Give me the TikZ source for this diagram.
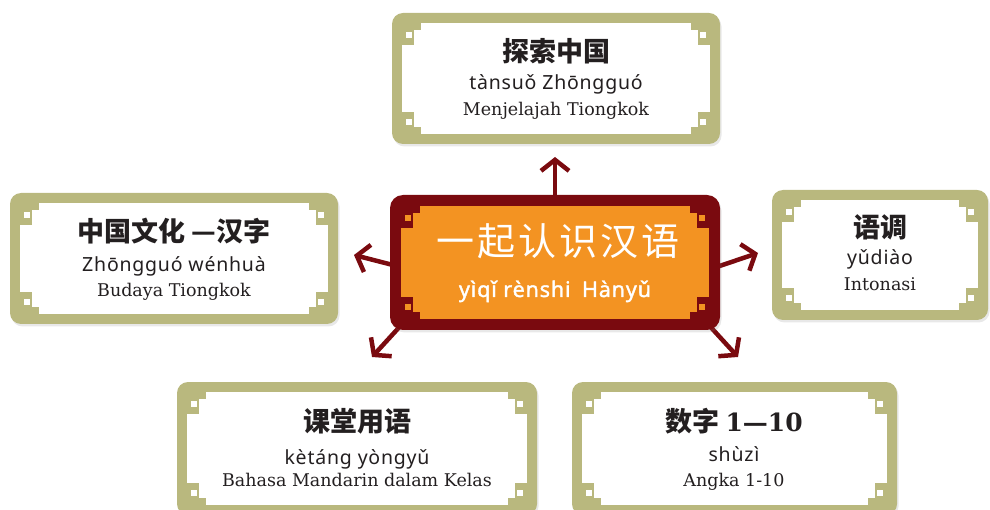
\documentclass[tikz,border=0pt]{standalone}
\usepackage{fontspec}
\usetikzlibrary{calc,arrows.meta,shadows,backgrounds}
\newfontfamily\cjk{Noto Sans CJK SC}
\newfontfamily\cjkt{Noto Sans CJK SC}[LetterSpace=8]
\newfontfamily\py{Noto Sans}[LetterSpace=4]
\newfontfamily\pyb{Noto Sans}[LetterSpace=4,FakeBold=1.6]
\newfontfamily\idn{DejaVu Serif}
\definecolor{frameolive}{HTML}{B9B87E}
\definecolor{darkred}{HTML}{7A0A0F}
\definecolor{orng}{HTML}{F39322}
\definecolor{ink}{HTML}{231F20}
\newcommand\innerdeco[4]{%
  \fill[#3] ($(#1.north west)+(#4,#4)$) rectangle ($(#1.south east)+(-#4,-#4)$);
  \foreach \an/\sx/\sy in {north west/1/1, north east/-1/1, south west/1/-1, south east/-1/-1}{
    \begin{scope}[shift={($(#1.\an)+(\sx*#4,\sy*#4)$)}, xscale=\sx, yscale=\sy]
      \fill[#2] (0,0) rectangle (19,7) (0,0) rectangle (12,22);
      \fill[#3] (4,9) rectangle (10.5,15.5);
    \end{scope}
  }%
}
\tikzset{
  oframe/.style={fill=frameolive, rounded corners=11pt, inner sep=0pt,
    drop shadow={shadow xshift=1.5pt, shadow yshift=-2.5pt, opacity=0.18}},
  cframe/.style={fill=darkred, rounded corners=13pt, inner sep=0pt,
    drop shadow={shadow xshift=1.5pt, shadow yshift=-2.5pt, opacity=0.18}},
  txt/.style={inner sep=0pt, anchor=base, text=ink},
  cn/.style={txt, font=\cjk\bfseries\fontsize{27}{27}\selectfont},
  pyn/.style={txt, font=\py\fontsize{19.5}{19.5}\selectfont},
  idt/.style={txt, font=\idn\fontsize{17.5}{17.5}\selectfont},
  conn/.style={draw=darkred, line width=4.5pt, -{Straight Barb[length=11pt,width=28pt,line width=4.5pt]}}
}
\begin{document}
\begin{tikzpicture}[x=1pt,y=-1pt]
\useasboundingbox (0,0) rectangle (990,510);
% frames
\node[oframe, minimum width=328pt, minimum height=131pt] (top) at (556,78.5) {};
\innerdeco{top}{frameolive}{white}{10}
\node[oframe, minimum width=328pt, minimum height=131pt] (left) at (174,258.5) {};
\innerdeco{left}{frameolive}{white}{10}
\node[oframe, minimum width=216pt, minimum height=130pt] (right) at (880,255) {};
\innerdeco{right}{frameolive}{white}{10}
\node[oframe, minimum width=360pt, minimum height=133pt] (bl) at (357,448.5) {};
\innerdeco{bl}{frameolive}{white}{10}
\node[oframe, minimum width=325pt, minimum height=133pt] (br) at (734.5,448.5) {};
\innerdeco{br}{frameolive}{white}{10}
\node[cframe, minimum width=330pt, minimum height=135pt] (c) at (555,262.5) {};
\innerdeco{c}{darkred}{orng}{11}
% texts
\node[cn] (topcn) at (556,62) {探索中国};
\node[pyn] (toppy) at (556,90) {tànsuǒ Zhōngguó};
\node[idt] (topid) at (556,116) {Menjelajah Tiongkok};
\node[cn] (leftcn) at (174,242) {中国文化 —汉字};
\node[pyn] (leftpy) at (174,272) {Zhōngguó wénhuà};
\node[idt] (leftid) at (174,297) {Budaya Tiongkok};
\node[cn] (rightcn) at (880,238) {语调};
\node[pyn] (rightpy) at (880,265) {yǔdiào};
\node[idt] (rightid) at (880,291) {Intonasi};
\node[cn] (blcn) at (357,431) {课堂用语};
\node[pyn] (blpy) at (357,464) {kètáng yòngyǔ};
\node[idt] (blid) at (357,486) {Bahasa Mandarin dalam Kelas};
\node[cn] (brcn) at (734,431) {数字 {\idn\bfseries\fontsize{25}{25}\selectfont 1—10}};
\node[pyn] (brpy) at (734,461) {shùzì};
\node[idt] (brid) at (734,486) {Angka 1-10};
\node[inner sep=0pt, anchor=base, text=white, font=\cjkt\fontsize{38}{38}\selectfont] (ct) at (558,256) {一起认识汉语};
\node[inner sep=0pt, anchor=base, text=white, font=\pyb\fontsize{21.5}{21.5}\selectfont] (cp) at (555,297) {yìqǐ rènshi\hspace{5pt} Hànyǔ};
% arrows
\coordinate (tu) at (555,157);
\coordinate (tl) at (354,255);
\coordinate (tr) at (758,253);
\coordinate (tbl) at (372,357);
\coordinate (tbr) at (738,357);
\begin{scope}[on background layer]
\draw[conn] ($(c.north)+(0,5)$) -- (tu);
\draw[conn] ($(c.west)+(5,3)$) -- (tl);
\draw[conn] ($(c.east)+(-5,5)$) -- (tr);
\draw[conn] ($(c.south west)+(14,-8)$) -- (tbl);
\draw[conn] ($(c.south east)+(-14,-8)$) -- (tbr);
\end{scope}
\end{tikzpicture}
\end{document}
